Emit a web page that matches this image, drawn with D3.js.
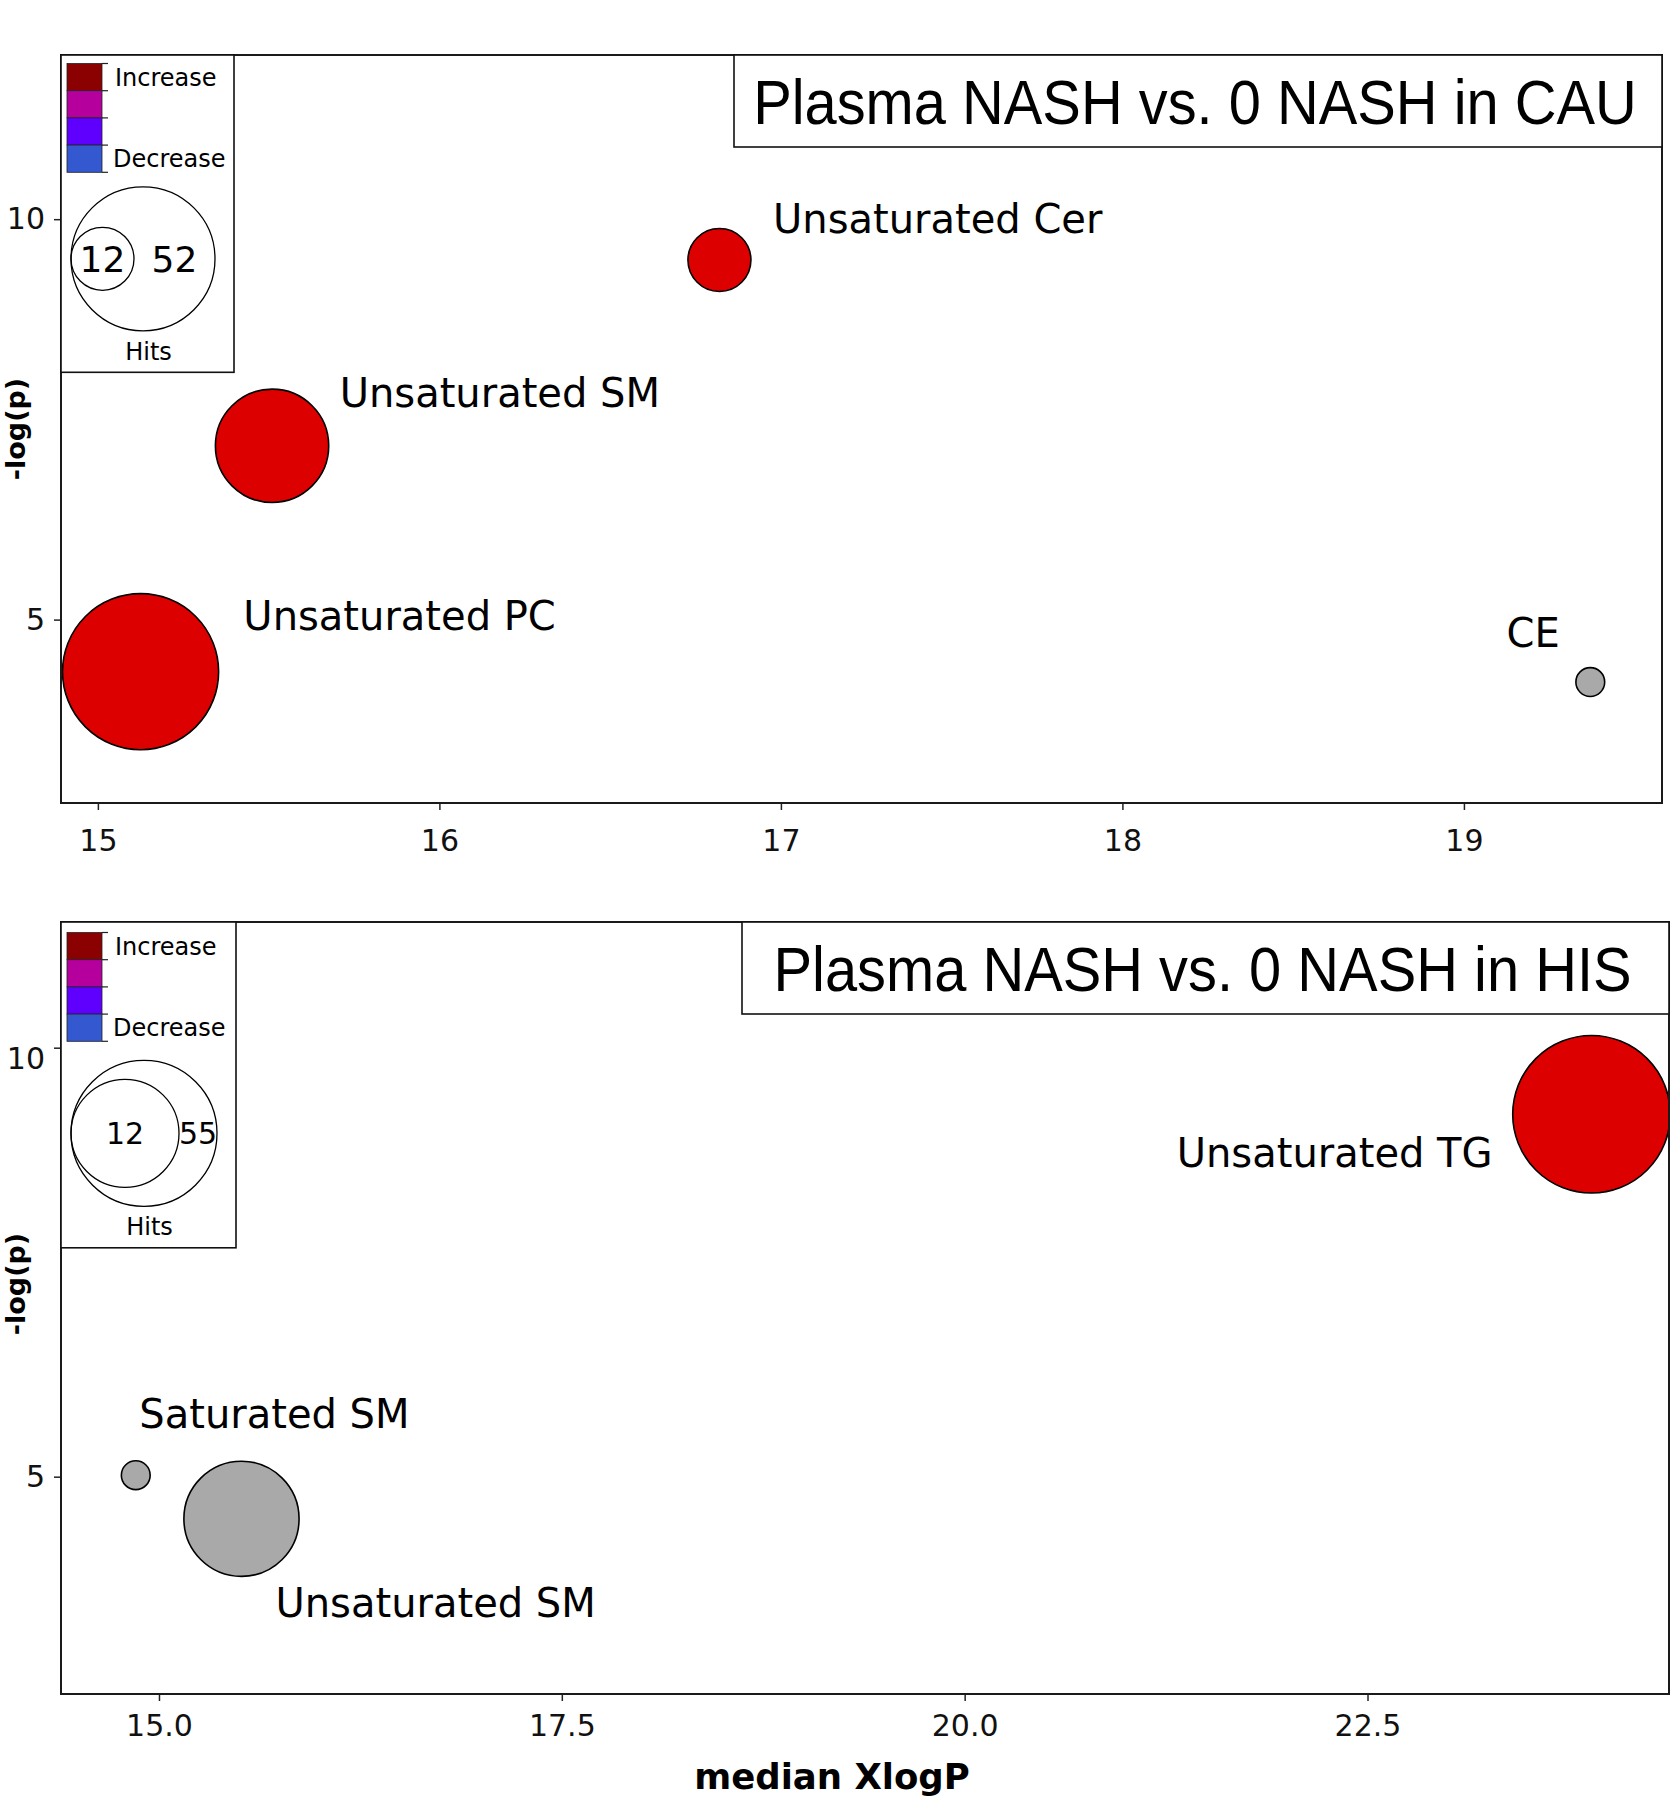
<!DOCTYPE html>
<html>
<head>
<meta charset="utf-8">
<script src="https://cdn.jsdelivr.net/npm/d3@7"></script>
<style>
  html, body { margin: 0; padding: 0; background: #fff; }
  svg { display: block; }
</style>
</head>
<body>
<div id="chart"></div>
<script>
// ---------------- DATA ----------------
// Panel 1: Plasma NASH vs. 0 NASH in CAU
const cauTitle = "Plasma NASH vs. 0 NASH in CAU";
const cauCategories = ["Unsaturated Cer", "Unsaturated SM", "Unsaturated PC", "CE"];
const cauMedianXlogP = [16.82, 15.51, 15.125, 19.37];
const cauNegLogP = [9.49, 7.17, 4.35, 4.22];
const cauHits = [12, 34, 60, 3];
const cauDirection = ["increase", "increase", "increase", "ns"];
const cauLabelXlogP = [16.977, 15.708, 15.426, 19.125];
const cauLabelNegLogP = [9.83, 7.65, 4.865, 4.66];
const cauXTicks = [15, 16, 17, 18, 19];
const cauLegendHits = [12, 52];

// Panel 2: Plasma NASH vs. 0 NASH in HIS
const hisTitle = "Plasma NASH vs. 0 NASH in HIS";
const hisCategories = ["Unsaturated TG", "Saturated SM", "Unsaturated SM"];
const hisMedianXlogP = [23.89, 14.856, 15.512];
const hisNegLogP = [9.224, 5.017, 4.509];
const hisHits = [61, 3, 35];
const hisDirection = ["increase", "ns", "ns"];
const hisLabelXlogP = [21.316, 14.878, 15.723];
const hisLabelNegLogP = [8.604, 5.564, 3.359];
const hisXTicks = [15.0, 17.5, 20.0, 22.5];
const hisLegendHits = [12, 55];

const yTicks = [5, 10];
const legendBinLabels = ["Increase", "", "", "Decrease"];
const legendBinColors = ["#8b0000", "#b5009e", "#5f00ff", "#3358d0"];
const xAxisLabel = "median XlogP";
const yAxisLabel = "-log(p)";
const legendSizeTitle = "Hits";

// ---------------- STYLE / LAYOUT ----------------
const W = 1675, H = 1800;
const dirColor = { increase: "#dd0000", ns: "#a9a9a9" };
const sizeScale = d3.scalePow().exponent(0.564).domain([0, 52]).range([0, 72]);

const panels = [
  {
    title: cauTitle, cats: cauCategories, xs: cauMedianXlogP, ys: cauNegLogP, hits: cauHits,
    dir: cauDirection, lx: cauLabelXlogP, ly: cauLabelNegLogP, xTicks: cauXTicks, xFmt: d3.format("d"),
    legendHits: cauLegendHits,
    box: { left: 61, right: 1662, top: 55, bottom: 803 },
    xDomain: [14.892, 19.58], yDomain: [2.71, 12.05],
    titleBox: { x0: 734, x1: 1662, h: 92 },
    legend: { w: 173, rRange: [31.5, 72], numSize: 36, cbOff: 8.5, gap: 14.5 },
    xPad: 20, yTopLabelShift: 0,
    yLabelY: 429, showXLabel: false
  },
  {
    title: hisTitle, cats: hisCategories, xs: hisMedianXlogP, ys: hisNegLogP, hits: hisHits,
    dir: hisDirection, lx: hisLabelXlogP, ly: hisLabelNegLogP, xTicks: hisXTicks, xFmt: d3.format(".1f"),
    legendHits: hisLegendHits,
    box: { left: 61, right: 1669, top: 922, bottom: 1694 },
    xDomain: [14.392, 24.371], yDomain: [2.467, 11.465],
    titleBox: { x0: 742, x1: 1669, h: 92 },
    legend: { w: 175, rRange: [54, 73], numSize: 30, cbOff: 10.5, gap: 19 },
    xPad: 14, yTopLabelShift: 11,
    yLabelY: 1284, showXLabel: true
  }
];

const svg = d3.select("#chart").append("svg")
  .attr("width", W).attr("height", H)
  .attr("viewBox", `0 0 ${W} ${H}`);

svg.append("rect").attr("width", W).attr("height", H).attr("fill", "#fff");

panels.forEach(p => {
  const g = svg.append("g");
  const x = d3.scaleLinear().domain(p.xDomain).range([p.box.left, p.box.right]);
  const y = d3.scaleLinear().domain(p.yDomain).range([p.box.bottom, p.box.top]);

  // axes
  const xAxis = d3.axisBottom(x).tickValues(p.xTicks).tickFormat(p.xFmt).tickSize(7).tickPadding(p.xPad);
  const yAxis = d3.axisLeft(y).tickValues(yTicks).tickFormat(d3.format("d")).tickSize(7).tickPadding(9);

  const gx = g.append("g").attr("transform", `translate(0,${p.box.bottom})`).call(xAxis);
  const gy = g.append("g").attr("transform", `translate(${p.box.left},0)`).call(yAxis);
  [gx, gy].forEach(a => {
    a.select(".domain").remove();
    a.selectAll(".tick line").attr("stroke", "#222").attr("stroke-width", 1.5);
    a.selectAll(".tick text").attr("fill", "#111")
      .style("font-family", "'DejaVu Sans', sans-serif").style("font-size", "30px");
  });
  gy.selectAll(".tick text").filter(d => d === d3.max(yTicks))
    .attr("transform", `translate(0,${p.yTopLabelShift})`);

  // bubbles (largest first)
  const rows = p.cats.map((c, i) => ({ c, x: p.xs[i], y: p.ys[i], h: p.hits[i], d: p.dir[i], lx: p.lx[i], ly: p.ly[i] }));
  const clipId = "clip" + p.box.top;
  svg.append("defs").append("clipPath").attr("id", clipId)
    .append("rect").attr("x", p.box.left).attr("y", p.box.top)
    .attr("width", p.box.right - p.box.left).attr("height", p.box.bottom - p.box.top);

  g.append("g").attr("clip-path", `url(#${clipId})`)
    .selectAll("circle").data(rows.slice().sort((a, b) => b.h - a.h)).join("circle")
    .attr("cx", d => x(d.x)).attr("cy", d => y(d.y)).attr("r", d => sizeScale(d.h))
    .attr("fill", d => dirColor[d.d]).attr("stroke", "#000").attr("stroke-width", 1.6);

  g.append("g").selectAll("text").data(rows).join("text")
    .attr("x", d => x(d.lx)).attr("y", d => y(d.ly))
    .attr("fill", "#000")
    .style("font-family", "'DejaVu Sans', sans-serif").style("font-size", "40px")
    .text(d => d.c);

  // frame
  g.append("rect")
    .attr("x", p.box.left).attr("y", p.box.top)
    .attr("width", p.box.right - p.box.left).attr("height", p.box.bottom - p.box.top)
    .attr("fill", "none").attr("stroke", "#1a1a1a").attr("stroke-width", 2);

  // title box
  const tb = p.titleBox;
  g.append("rect").attr("x", tb.x0).attr("y", p.box.top).attr("width", tb.x1 - tb.x0).attr("height", tb.h)
    .attr("fill", "#fff").attr("stroke", "#111").attr("stroke-width", 1.6);
  g.append("g")
    .attr("transform", `translate(${(tb.x0 + tb.x1) / 2 - 3},${p.box.top + 69}) scale(0.918,1)`)
    .append("text")
    .attr("x", 0).attr("y", 0)
    .attr("text-anchor", "middle")
    .style("font-family", "'Liberation Sans', Arial, sans-serif").style("font-size", "63px")
    .attr("fill", "#000")
    .text(p.title);

  // legend
  const L = p.legend;
  const lx0 = p.box.left, ly0 = p.box.top;
  const lg = g.append("g");
  const binH = 27.2, binW = 35, cbX = lx0 + 6, cbY = ly0 + L.cbOff;
  const binY = d3.scaleBand().domain(d3.range(legendBinColors.length)).range([cbY, cbY + binH * legendBinColors.length]);
  lg.selectAll("rect.bin").data(legendBinColors).join("rect").attr("class", "bin")
    .attr("x", cbX).attr("y", (d, i) => binY(i)).attr("width", binW).attr("height", binY.bandwidth())
    .attr("fill", d => d).attr("stroke", "#222").attr("stroke-width", 0.8);
  lg.selectAll("line.bt").data(d3.range(legendBinColors.length + 1)).join("line").attr("class", "bt")
    .attr("x1", cbX + binW).attr("x2", cbX + binW + 6)
    .attr("y1", i => cbY + i * binY.bandwidth()).attr("y2", i => cbY + i * binY.bandwidth())
    .attr("stroke", "#222").attr("stroke-width", 1.2);
  lg.selectAll("text.bl").data(legendBinLabels).join("text").attr("class", "bl")
    .attr("x", cbX + binW).attr("dx", (d, i) => i === 0 ? 13 : 11)
    .attr("y", (d, i) => binY(i) + binY.bandwidth() / 2).attr("dy", "0.35em")
    .style("font-family", "'DejaVu Sans', sans-serif").style("font-size", "24px").attr("fill", "#000")
    .text(d => d);

  const lScale = d3.scaleLinear().domain(p.legendHits).range(L.rRange);
  const rBig = lScale(p.legendHits[1]), rSmall = lScale(p.legendHits[0]);
  const cbBottom = cbY + binH * legendBinColors.length;
  const cy = cbBottom + L.gap + rBig;
  const leftEdge = lx0 + 10;
  const bigCx = leftEdge + rBig, smallCx = leftEdge + rSmall;
  lg.append("circle").attr("cx", bigCx).attr("cy", cy).attr("r", rBig)
    .attr("fill", "none").attr("stroke", "#000").attr("stroke-width", 1.3);
  lg.append("circle").attr("cx", smallCx).attr("cy", cy).attr("r", rSmall)
    .attr("fill", "none").attr("stroke", "#000").attr("stroke-width", 1.3);
  lg.append("text").attr("x", smallCx).attr("y", cy).attr("dy", "0.36em").attr("text-anchor", "middle")
    .style("font-family", "'DejaVu Sans', sans-serif").style("font-size", L.numSize + "px")
    .text(p.legendHits[0]);
  lg.append("text").attr("x", (smallCx + rSmall + bigCx + rBig) / 2).attr("y", cy).attr("dy", "0.36em").attr("text-anchor", "middle")
    .style("font-family", "'DejaVu Sans', sans-serif").style("font-size", L.numSize + "px")
    .text(p.legendHits[1]);
  const hitsY = cy + rBig + 29;
  lg.append("text").attr("x", lx0 + L.w / 2 + 1).attr("y", hitsY).attr("text-anchor", "middle")
    .style("font-family", "'DejaVu Sans', sans-serif").style("font-size", "24px")
    .text(legendSizeTitle);
  lg.insert("rect", ":first-child").attr("x", lx0).attr("y", ly0).attr("width", L.w).attr("height", hitsY + 12.5 - ly0)
    .attr("fill", "#fff").attr("stroke", "#111").attr("stroke-width", 1.6);

  // y label
  g.append("text")
    .attr("transform", `translate(16,${p.yLabelY}) rotate(-90)`)
    .attr("text-anchor", "middle").attr("dy", "0.35em")
    .style("font-family", "'DejaVu Sans', sans-serif").style("font-size", "27px").style("font-weight", "bold")
    .text(yAxisLabel);

  if (p.showXLabel) {
    g.append("text").attr("x", 832).attr("y", 1789).attr("text-anchor", "middle")
      .style("font-family", "'DejaVu Sans', sans-serif").style("font-size", "35.5px").style("font-weight", "bold")
      .text(xAxisLabel);
  }
});
</script>
</body>
</html>
